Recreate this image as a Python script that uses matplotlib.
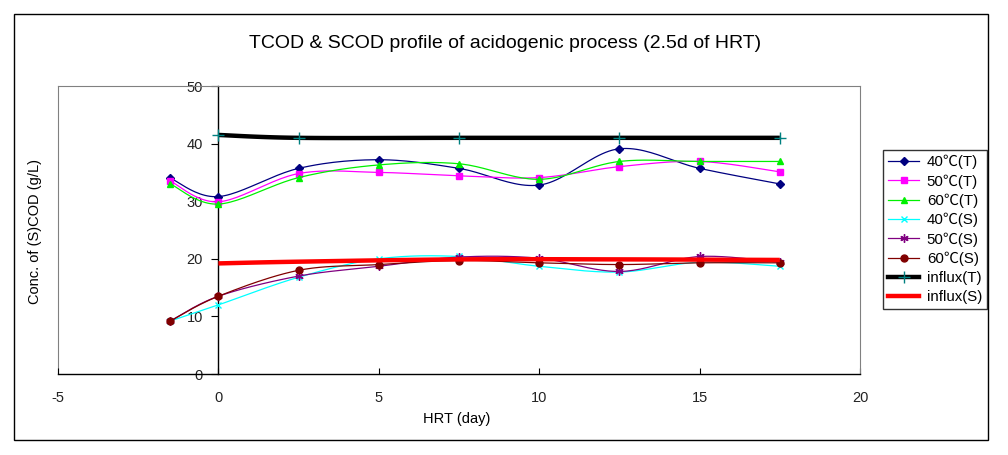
import numpy as np
import matplotlib
matplotlib.use("Agg")
import matplotlib.pyplot as plt
from matplotlib.lines import Line2D
from matplotlib.patches import Rectangle

plt.rcParams['font.family'] = ['Liberation Sans', 'Noto Sans CJK KR', 'DejaVu Sans']

# ---------------- data ----------------
hrt = [-1.5, 0, 2.5, 5, 7.5, 10, 12.5, 15, 17.5]
t40 = [34.0, 30.8, 35.7, 37.2, 35.7, 32.8, 39.1, 35.7, 33.0]
t50 = [33.5, 29.9, 34.8, 35.0, 34.4, 34.1, 36.0, 36.9, 35.1]
t60 = [33.0, 29.5, 34.1, 36.3, 36.5, 33.8, 36.9, 36.9, 36.9]
s40 = [9.2, 12.0, 16.8, 20.0, 20.4, 18.7, 17.7, 19.4, 18.7]
s50 = [9.2, 13.5, 17.0, 18.7, 20.3, 20.1, 17.8, 20.4, 19.4]
s60 = [9.2, 13.5, 18.0, 19.0, 19.7, 19.3, 19.0, 19.3, 19.3]
hrt_in = [0, 2.5, 7.5, 12.5, 17.5]
influx_t = [41.5, 41.0, 41.0, 41.0, 41.0]
influx_s = [19.2, 19.5, 19.9, 19.9, 19.8]

labels = ['40℃(T)', '50℃(T)', '60℃(T)', '40℃(S)', '50℃(S)', '60℃(S)', 'influx(T)', 'influx(S)']
xticks = [-5, 0, 5, 10, 15, 20]
yticks = [0, 10, 20, 30, 40, 50]
title = 'TCOD & SCOD profile of acidogenic process (2.5d of HRT)'
xlabel = 'HRT (day)'
ylabel = 'Conc. of (S)COD (g/L)'


def smooth(x, y, n=24):
    """Catmull-Rom style smoothing (like spreadsheet 'smoothed line')."""
    x = np.asarray(x, float)
    y = np.asarray(y, float)
    P = np.column_stack([x, y])
    out = [P[0]]
    for i in range(len(P) - 1):
        p0 = P[i - 1] if i > 0 else P[i]
        p1 = P[i]
        p2 = P[i + 1]
        p3 = P[i + 2] if i + 2 < len(P) else P[i + 1]
        c1 = p1 + (p2 - p0) / 6.0
        c2 = p2 - (p3 - p1) / 6.0
        t = np.linspace(0, 1, n)[1:, None]
        seg = ((1 - t) ** 3) * p1 + 3 * ((1 - t) ** 2) * t * c1 + 3 * (1 - t) * t ** 2 * c2 + t ** 3 * p2
        out.extend(seg)
    out = np.array(out)
    return out[:, 0], out[:, 1]


W, H = 1008, 455
fig = plt.figure(figsize=(W / 100, H / 100), dpi=100)
fig.patch.set_facecolor('white')

# outer chart frame
fig.patches.append(Rectangle((14 / W, 1 - 440 / H), 974 / W, 426 / H, transform=fig.transFigure,
                             fill=False, edgecolor='black', linewidth=1.0, zorder=0))

ax = fig.add_axes([58 / W, 1 - 374 / H, (860 - 58) / W, (374 - 86) / H])
ax.set_xlim(-5, 20)
ax.set_ylim(0, 50)

series = [
    (hrt, t40, '#000080', 'D', 4.0, '#000080', 0.9),
    (hrt, t50, '#FF00FF', 's', 4.5, '#FF00FF', 0.9),
    (hrt, t60, '#00F000', '^', 5.0, '#00F000', 0.9),
    (hrt, s40, '#00FFFF', 'x', 5.0, '#00FFFF', 0.9),
    (hrt, s50, '#800080', (6, 2, 0), 6.0, '#800080', 0.9),
    (hrt, s60, '#800000', 'o', 5.0, '#800000', 0.9),
    (hrt_in, influx_t, '#000000', '+', 9.0, '#008080', 3.2),
    (hrt_in, influx_s, '#FF0000', 'None', 0, '#FF0000', 3.2),
]

handles = []
for i, (xs, ys, col, mk, ms, mcol, lw) in enumerate(series):
    sx, sy = smooth(xs, ys)
    ax.plot(sx, sy, color=col, lw=lw, solid_capstyle='butt', zorder=3 + i, clip_on=False)
    if mk != 'None':
        ax.plot(xs, ys, ls='None', marker=mk, ms=ms, mfc=mcol, mec=mcol, mew=1.0,
                zorder=3 + i, clip_on=False)
    handles.append(Line2D([], [], color=col, lw=lw, marker=mk, ms=ms, mfc=mcol, mec=mcol, mew=1.0))

# axes styling
for s in ['top', 'right']:
    ax.spines[s].set_color('#808080')
    ax.spines[s].set_linewidth(0.8)
ax.spines['bottom'].set_color('black')
ax.spines['bottom'].set_linewidth(1.0)
ax.spines['left'].set_position(('data', 0))
ax.spines['left'].set_color('black')
ax.spines['left'].set_linewidth(1.0)
ax.axvline(-5, color='#808080', lw=0.8, clip_on=False, zorder=1)

ax.set_xticks(xticks)
ax.set_yticks(yticks)
ax.tick_params(axis='x', direction='in', length=4, width=0.8, pad=12, labelsize=10.5, colors='black')
ax.tick_params(axis='y', direction='out', length=5, width=0.8, pad=6, labelsize=10.5, colors='black')
ax.set_xticklabels([str(v) for v in xticks])
ax.set_yticklabels([str(v) for v in yticks])
for lbl in ax.get_xticklabels() + ax.get_yticklabels():
    lbl.set_color('#222222')

fig.text(505 / W, 1 - 43 / H, title, ha='center', va='center', fontsize=14)
fig.text(457 / W, 1 - 419 / H, xlabel, ha='center', va='center', fontsize=10.5)
fig.text(35 / W, 1 - 232 / H, ylabel, ha='center', va='center', rotation=90, fontsize=10.5)

leg = fig.legend(handles, labels, loc='upper left', bbox_to_anchor=(883 / W, 1 - 150 / H),
                 frameon=True, fancybox=False, edgecolor='black', fontsize=10.8,
                 handlelength=2.1, handletextpad=0.5, labelspacing=0.33, borderpad=0.32,
                 borderaxespad=0)
leg.get_frame().set_linewidth(1.0)

fig.savefig('out.png', dpi=100, facecolor='white')
